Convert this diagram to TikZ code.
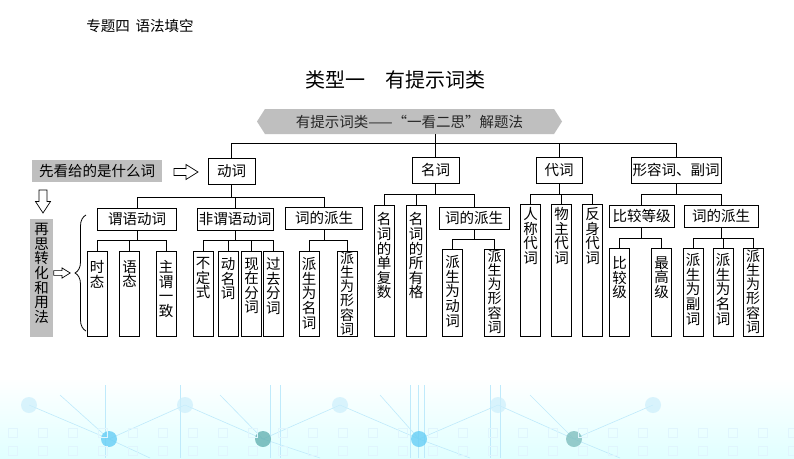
\documentclass[tikz,border=0pt]{standalone}
\usepackage{fontspec}
\newfontfamily\cjk{Noto Sans CJK SC}
\usetikzlibrary{shapes.symbols, decorations.pathreplacing}

% vertical text: [top pad]{box height}{chars}
\newcommand\vt[3][6]{\parbox[t][#2pt][t]{20pt}{\centering\vspace*{#1pt}#3}}
% parent, y of the bar, children
\newcommand\branch[3]{%
  \coordinate (bar) at (0,#2);
  \foreach \c in {#3}{\draw (#1.south) -- (#1.south |- bar) -| (\c.north);}}

\begin{document}
\begin{tikzpicture}[x=1pt, y=-1pt, line width=0.8pt,
    every node/.style={font=\cjk\fontsize{14.5}{14.6}\selectfont},
    cat/.style={draw, minimum height=26pt, inner sep=1pt},
    sub/.style={draw, minimum height=22pt, inner sep=1pt},
    leaf/.style={draw, anchor=south, inner sep=0pt},
    long/.style={font=\cjk\fontsize{14}{14.2}\selectfont},
    tag/.style={fill=gray!50, inner sep=0pt},
    banner/.style={signal, signal to=west and east, signal pointer angle=115,
      fill=gray!50, minimum width=305pt, minimum height=25pt, inner sep=0pt},
    hollow/.style={draw, fill=white, line width=0.7pt},
    deco/.style={cyan!25, line width=0.6pt},
    rarrow/.pic={\draw[hollow] (-12,-3.5) -- (0,-3.5) -- (0,-7.5) -- (12,0)
      -- (0,7.5) -- (0,3.5) -- (-12,3.5) -- cycle;},
    darrow/.pic={\draw[hollow] (-4,-11.5) -- (-4,0) -- (-7.5,0) -- (0,11.5)
      -- (7.5,0) -- (4,0) -- (4,-11.5) -- cycle;}]
  \useasboundingbox (0,0) rectangle (794,458);
  \fill[white] (0,0) rectangle (794,458);

  % background at the bottom
  \shade[top color=white, bottom color=cyan!12] (0,378) rectangle (794,458);
  \draw[deco] (29,405) -- (109,439) -- (185,405) -- (263,439) -- (340,405)
    -- (419,439) -- (498,405) -- (574,439) -- (653,405);
  \draw[deco] (60,395) -- (109,439) -- (150,458) (220,395) -- (263,439) -- (320,458)
    (380,395) -- (419,439) -- (470,458) (530,395) -- (574,439) -- (620,458);
  \foreach \x in {105,180,270,280,410,418,424,490,500}
    \draw[deco] (\x,385) -- (\x,458);
  \foreach \x in {29,185,340,498,653}
    \fill[cyan!20, opacity=0.7] (\x,405) circle (8);
  \foreach \x/\c in {109/cyan!60,263/teal!60,419/cyan!60,574/teal!50}
    \fill[\c, opacity=0.8] (\x,439) circle (8);
  \foreach \x in {0,30,60,...,780}{
    \draw[cyan!12] (\x+8,428) rectangle ++(9,9);
    \draw[cyan!12] (\x+8,446) rectangle ++(9,9);}

  % header
  \node (zhuanti) at (140,26) {专题四\hspace{6pt}语法填空};
  \node[font=\cjk\fontsize{20}{20}\selectfont] (title) at (395,80) {类型一　有提示词类};
  \node[banner, text=black!85] (tishi) at (409.5,121.5) {有提示词类——“一看二思”解题法};

  % first level
  \node[cat, minimum width=47pt] (dong) at (231.5,171) {动词};
  \node[cat, minimum width=47pt] (ming) at (435.5,170) {名词};
  \node[cat, minimum width=46pt] (dai) at (559,170) {代词};
  \node[cat, minimum width=90pt] (xing) at (676,170) {形容词、副词};

  % left side
  \node[tag, minimum width=130pt, minimum height=22pt] (xiankan) at (97,171) {先看给的是什么词};
  \node[tag, anchor=north, minimum width=23pt] (zaisi) at (41.5,219)
    {\vt[4]{118}{再\\思\\转\\化\\和\\用\\法}};
  \pic at (186,172) {rarrow};
  \pic at (43,201.5) {darrow};
  \pic[scale=0.68] at (62,273) {rarrow};
  \draw[decorate, decoration={brace, amplitude=11pt}] (86,331) -- (86,215);

  % second level
  \node[sub, minimum width=79pt] (weiyu) at (137,219) {谓语动词};
  \node[sub, minimum width=76pt] (feiwei) at (235,219) {非谓语动词};
  \node[sub, minimum width=77pt] (paisheng) at (324,218) {词的派生};
  \node[sub, minimum width=70pt] (mingps) at (474,218) {词的派生};
  \node[sub, minimum width=65pt] (bijiao) at (641.5,216) {比较等级};
  \node[sub, minimum width=74pt] (xingps) at (721,216) {词的派生};

  % leaves
  \node[leaf] (shitai) at (97,337) {\vt[9]{85}{时\\态}};
  \node[leaf] (yutai) at (129.5,337) {\vt[9]{85}{语\\态}};
  \node[leaf] (zhuwei) at (166,337) {\vt[9]{85}{主\\谓\\一\\致}};
  \node[leaf] (buding) at (203,337) {\vt[6]{85}{不\\定\\式}};
  \node[leaf] (dongming) at (228,337) {\vt[6]{85}{动\\名\\词}};
  \node[leaf] (xianzai) at (251.7,337) {\vt[6]{85}{现\\在\\分\\词}};
  \node[leaf] (guoqu) at (273.3,337) {\vt[6]{85}{过\\去\\分\\词}};
  \node[leaf] (psming) at (309,337) {\vt[6]{85}{派\\生\\为\\名\\词}};
  \node[leaf, long] (psxing) at (347,337) {\vt[0]{85}{派\\生\\为\\形\\容\\词}};
  \node[leaf] (danfu) at (384,337) {\vt[7]{131}{名\\词\\的\\单\\复\\数}};
  \node[leaf] (suoyou) at (416,337) {\vt[7]{131}{名\\词\\的\\所\\有\\格}};
  \node[leaf] (psdong) at (452.5,337) {\vt[6]{87}{派\\生\\为\\动\\词}};
  \node[leaf, long] (psxingb) at (494.5,337) {\vt[0]{87}{派\\生\\为\\形\\容\\词}};
  \node[leaf] (rencheng) at (530.5,337) {\vt[3]{132}{人\\称\\代\\词}};
  \node[leaf] (wuzhu) at (561.5,337) {\vt[3]{132}{物\\主\\代\\词}};
  \node[leaf] (fanshen) at (592.5,337) {\vt[3]{132}{反\\身\\代\\词}};
  \node[leaf] (bijiaoji) at (619.5,337) {\vt[8]{88}{比\\较\\级}};
  \node[leaf] (zuigao) at (661.5,337) {\vt[8]{88}{最\\高\\级}};
  \node[leaf] (psfu) at (693,337) {\vt[5]{88}{派\\生\\为\\副\\词}};
  \node[leaf] (psmingc) at (723,337) {\vt[5]{88}{派\\生\\为\\名\\词}};
  \node[leaf, long] (psxingc) at (753,337) {\vt[1]{88}{派\\生\\为\\形\\容\\词}};

  % connectors
  \coordinate (top) at (0,143);
  \draw (tishi.south -| ming.north) -- (ming.north);
  \draw (dong.north) -- (dong.north |- top) -- (xing.north |- top) -- (xing.north);
  \draw (dai.north) -- (dai.north |- top);
  \branch{dong}{197}{weiyu,feiwei,paisheng}
  \branch{weiyu}{240}{shitai,yutai,zhuwei}
  \branch{feiwei}{240}{buding,dongming,xianzai,guoqu}
  \branch{paisheng}{240}{psming,psxing}
  \branch{ming}{194}{danfu,suoyou,mingps}
  \branch{mingps}{239}{psdong,psxingb}
  \branch{dai}{194}{rencheng,wuzhu,fanshen}
  \branch{xing}{194}{bijiao,xingps}
  \branch{bijiao}{238}{bijiaoji,zuigao}
  \branch{xingps}{238}{psfu,psmingc,psxingc}
\end{tikzpicture}
\end{document}
